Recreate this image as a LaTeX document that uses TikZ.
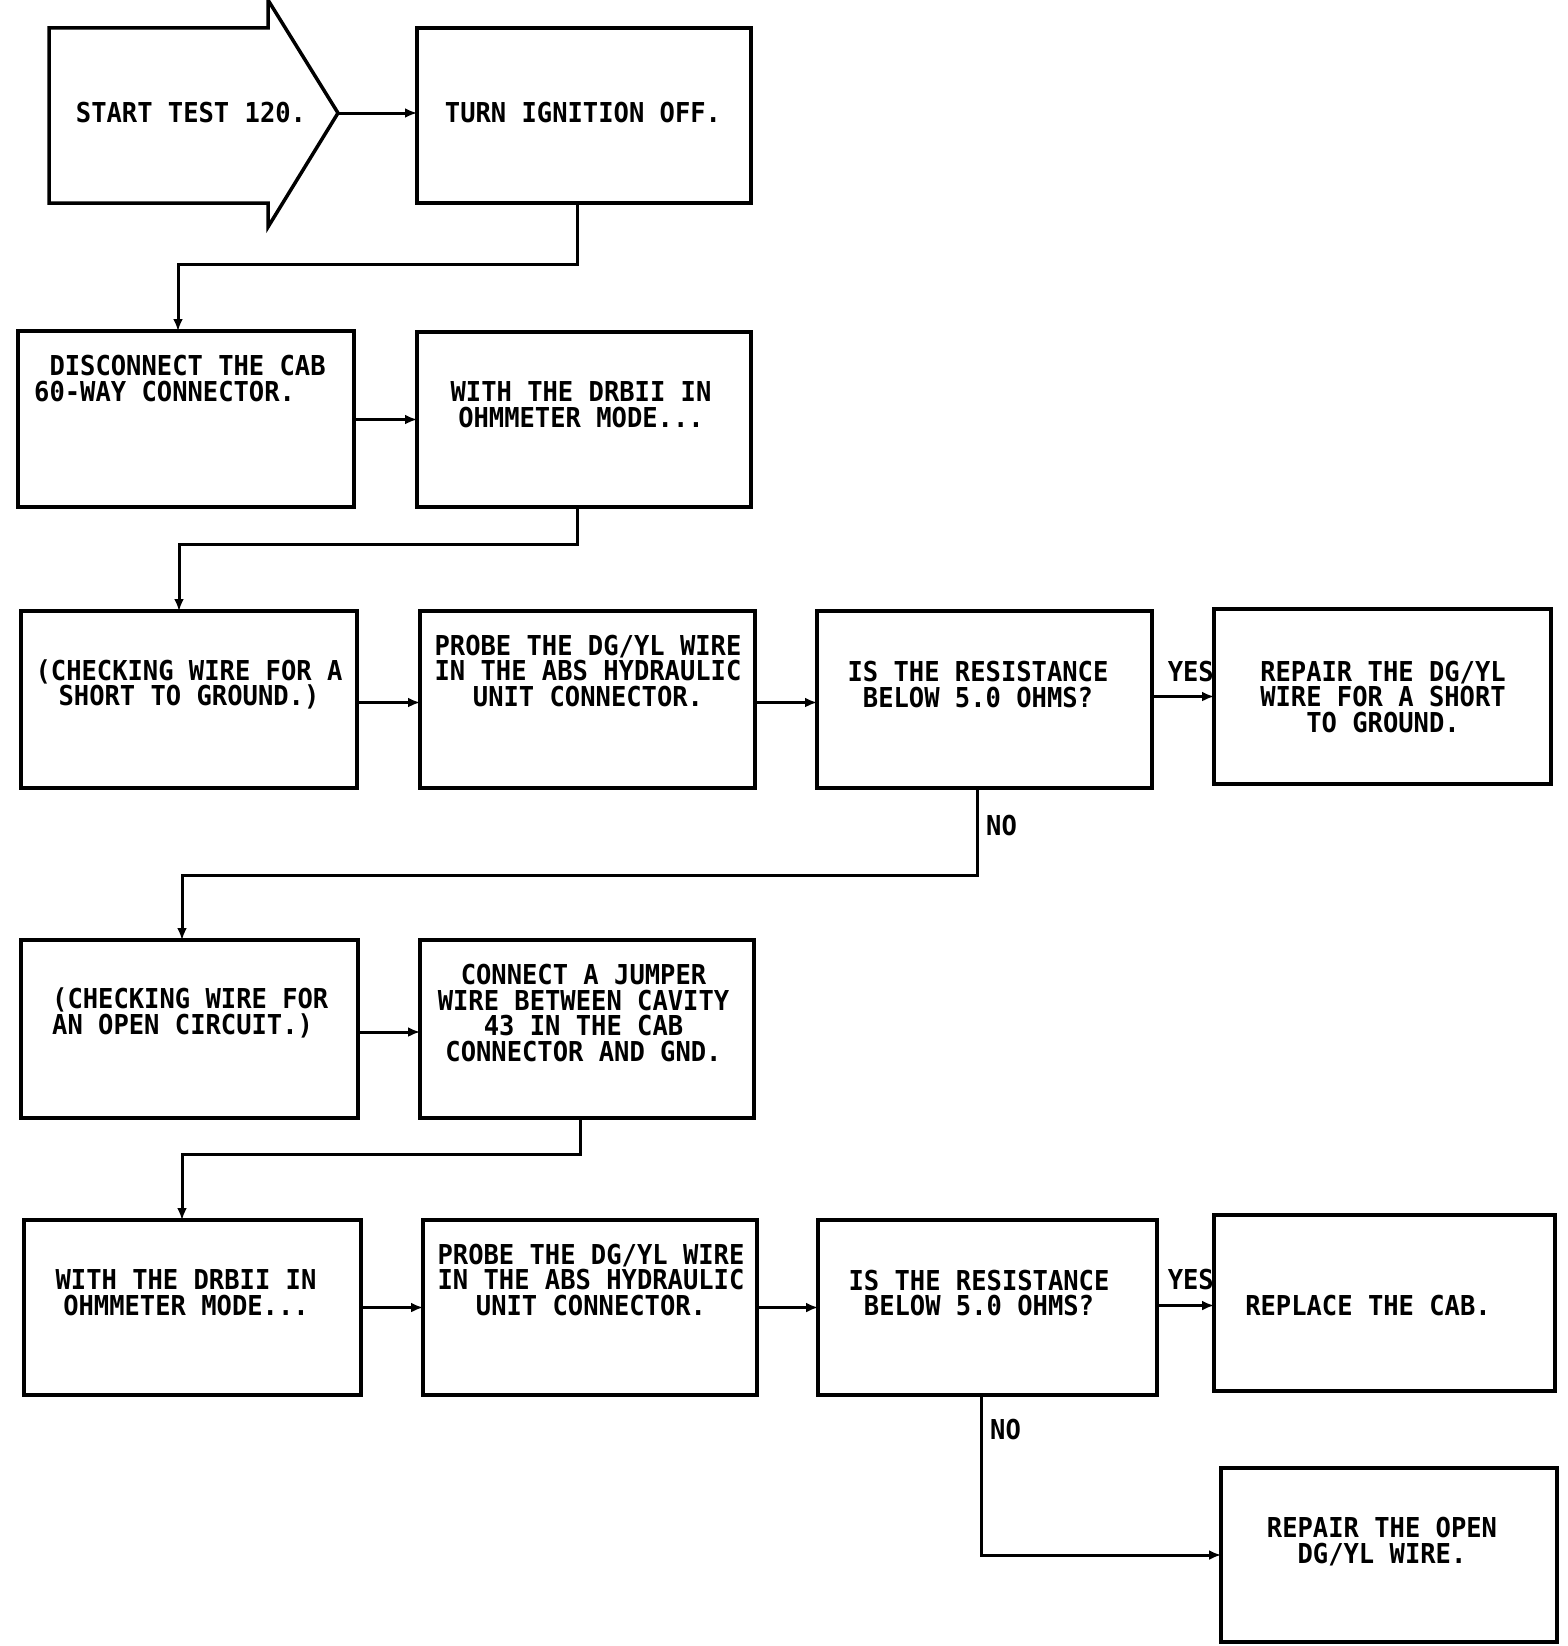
\documentclass[tikz,border=0pt]{standalone}
\usepackage{fontspec}
\newfontfamily\plotfont[FakeStretch=0.93]{DejaVu Sans Mono}
\usetikzlibrary{arrows.meta}
\begin{document}
\begin{tikzpicture}[x=1pt,y=-1pt,
  box/.style={draw, line width=3.5pt, inner sep=0pt, outer sep=0pt},
  txt/.style={inner sep=0pt, align=center, font=\plotfont\bfseries\fontsize{27.4}{25.7}\selectfont},
  ltxt/.style={txt, align=left, anchor=west},
  arr/.style={line width=3pt, -{Latex[length=12pt,width=10pt]}},
  shapeln/.style={line width=3.5pt, line join=miter}]
\useasboundingbox (0,0) rectangle (1568,1646);

% start arrow shape
\draw[shapeln] (49,28) -- (268,28) -- (268,0) -- (338,113) -- (268,227) -- (268,203) -- (49,203) -- cycle;
\coordinate (starttip) at (338,113);
\node[txt] (tstart) at (191,113) {START TEST 120.};

% boxes
\node[box, minimum width=334pt, minimum height=175pt] (turn) at (584,115.5) {};
\node[box, minimum width=336pt, minimum height=176pt] (disc) at (186,419) {};
\node[box, minimum width=334pt, minimum height=175pt] (with1) at (584,419.5) {};
\node[box, minimum width=336pt, minimum height=177pt] (chk1) at (189,699.5) {};
\node[box, minimum width=335pt, minimum height=177pt] (probe1) at (587.5,699.5) {};
\node[box, minimum width=335pt, minimum height=177pt] (q1) at (984.5,699.5) {};
\node[box, minimum width=337pt, minimum height=175pt] (rep1) at (1382.5,696.5) {};
\node[box, minimum width=337pt, minimum height=178pt] (chk2) at (189.5,1029) {};
\node[box, minimum width=334pt, minimum height=178pt] (jump) at (587,1029) {};
\node[box, minimum width=337pt, minimum height=175pt] (with2) at (192.5,1307.5) {};
\node[box, minimum width=334pt, minimum height=175pt] (probe2) at (590,1307.5) {};
\node[box, minimum width=339pt, minimum height=175pt] (q2) at (987.5,1307.5) {};
\node[box, minimum width=341pt, minimum height=176pt] (repl) at (1384.5,1303) {};
\node[box, minimum width=336pt, minimum height=174pt] (open) at (1389,1555) {};

% texts
\node[txt] (tturn) at (583,113) {TURN IGNITION OFF.};
\node[ltxt] (tdisc) at (34,378.5) {\phantom{D}DISCONNECT THE CAB\\60-WAY CONNECTOR.};
\node[txt] (twith1) at (581,405) {WITH THE DRBII IN\\OHMMETER MODE...};
\node[txt] (tchk1) at (189,684.5) {(CHECKING WIRE FOR A\\SHORT TO GROUND.)};
\node[txt] (tprobe1) at (588,671) {PROBE THE DG/YL WIRE\\IN THE ABS HYDRAULIC\\UNIT CONNECTOR.};
\node[txt] (tq1) at (978,684.5) {IS THE RESISTANCE\\BELOW 5.0 OHMS?};
\node[txt] (trep1) at (1383,697) {REPAIR THE DG/YL\\WIRE FOR A SHORT\\TO GROUND.};
\node[ltxt] (tchk2) at (52,1013) {(CHECKING WIRE FOR\\AN OPEN CIRCUIT.)};
\node[txt] (tjump) at (583.5,1013) {CONNECT A JUMPER\\WIRE BETWEEN CAVITY\\43 IN THE CAB\\CONNECTOR AND GND.};
\node[txt] (twith2) at (186,1293) {WITH THE DRBII IN\\OHMMETER MODE...};
\node[txt] (tprobe2) at (591,1280) {PROBE THE DG/YL WIRE\\IN THE ABS HYDRAULIC\\UNIT CONNECTOR.};
\node[txt] (tq2) at (979,1293) {IS THE RESISTANCE\\BELOW 5.0 OHMS?};
\node[txt] (trepl) at (1368,1306) {REPLACE THE CAB.};
\node[txt] (topen) at (1382,1541.5) {REPAIR THE OPEN\\DG/YL WIRE.};

% labels
\node[txt, anchor=east] (yes1) at (1214,672) {YES};
\node[txt, anchor=west] (no1) at (986,826) {NO};
\node[txt, anchor=east] (yes2) at (1214,1280) {YES};
\node[txt, anchor=west] (no2) at (990,1430) {NO};

% connectors
\draw[arr] (starttip) -- (starttip -| turn.west);
\draw[arr] ([xshift=-7pt]turn.south) -- ++(0,61) -| ([xshift=-8pt]disc.north);
\draw[arr] (disc.east |- with1.west) -- (with1.west);
\draw[arr] ([xshift=-7pt]with1.south) -- ++(0,37) -| ([xshift=-10pt]chk1.north);
\draw[arr] ([yshift=-3pt]chk1.east) -- ([yshift=-3pt]probe1.west);
\draw[arr] ([yshift=-3pt]probe1.east) -- ([yshift=-3pt]q1.west);
\draw[arr] (q1.east |- rep1.west) -- (rep1.west);
\draw[arr] ([xshift=-7.5pt]q1.south) -- ++(0,87) -| ([xshift=-7.5pt]chk2.north);
\draw[arr] ([yshift=-3pt]chk2.east) -- ([yshift=-3pt]jump.west);
\draw[arr] ([xshift=-7pt]jump.south) -- ++(0,36) -| ([xshift=-10.5pt]with2.north);
\draw[arr] (with2.east) -- (probe2.west);
\draw[arr] (probe2.east) -- (q2.west);
\draw[arr] ([yshift=2pt]q2.east) -- ([yshift=2pt]q2.east -| repl.west);
\draw[arr] ([xshift=-6.5pt]q2.south) |- (open.west);
\end{tikzpicture}
\end{document}
